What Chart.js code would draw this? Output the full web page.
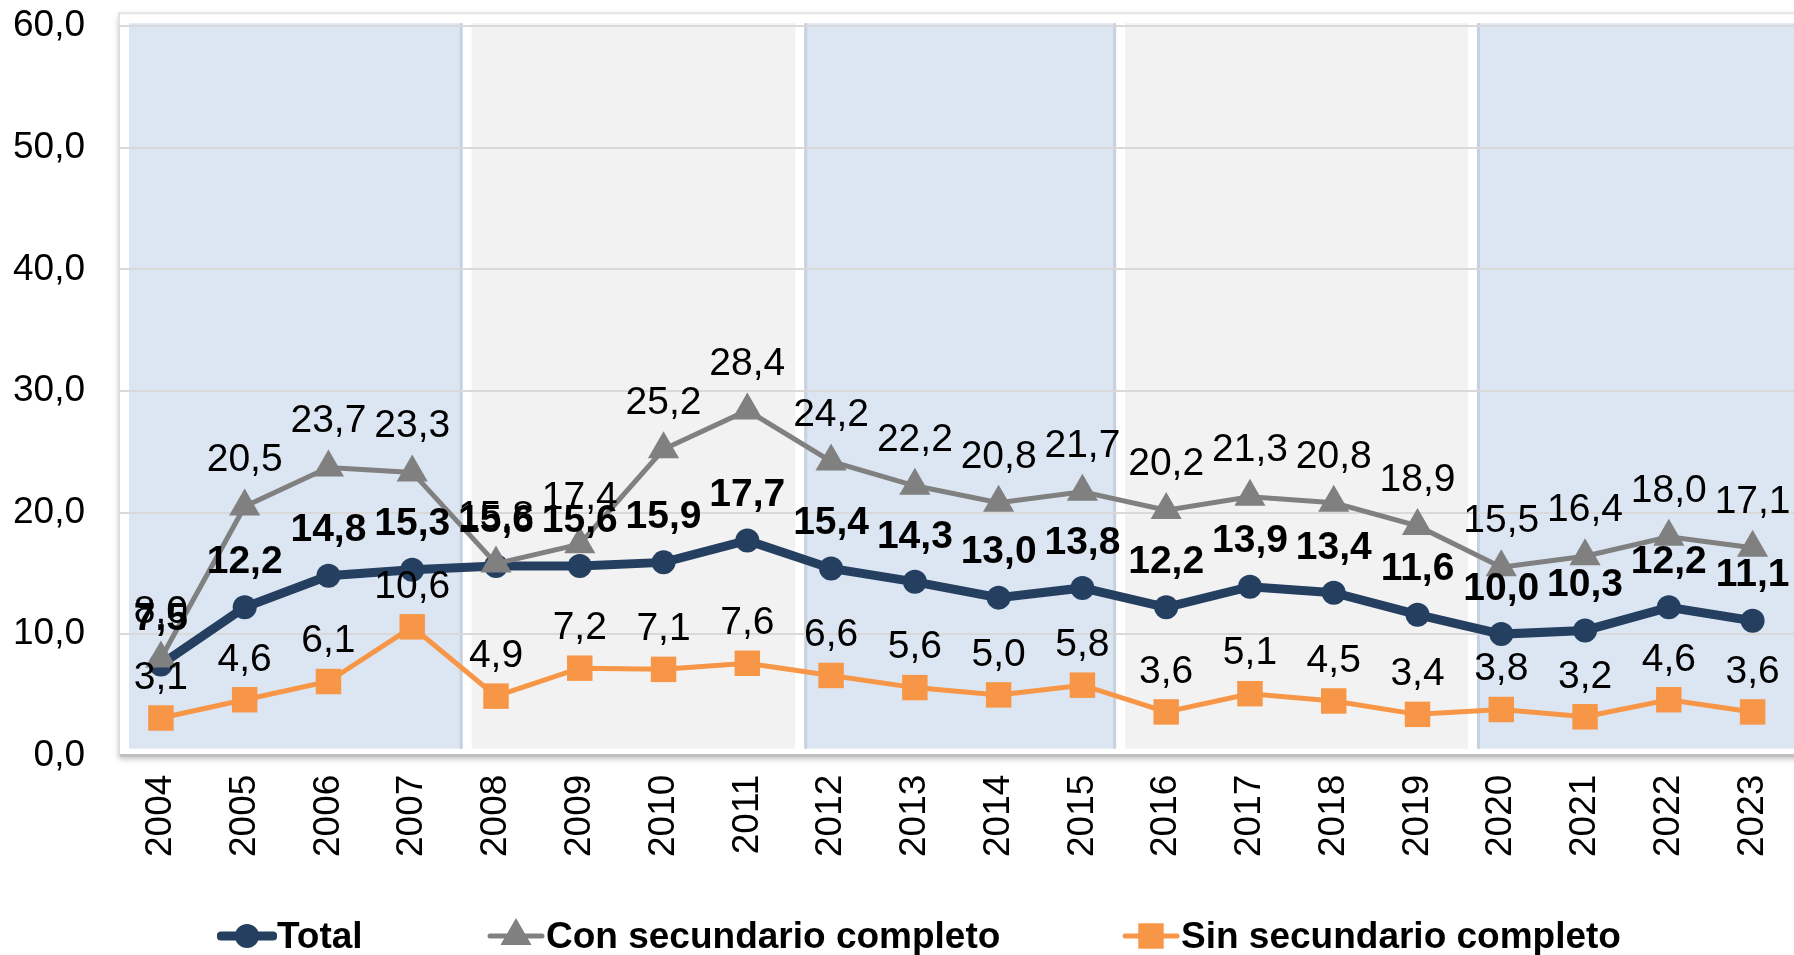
<!DOCTYPE html>
<html>
<head>
<meta charset="utf-8">
<title>Total / Con secundario completo / Sin secundario completo</title>
<script src="https://cdn.jsdelivr.net/npm/chart.js"></script>
<style>
  html, body { margin: 0; padding: 0; background: #fff; overflow: hidden; }
  #wrap { position: relative; width: 1800px; height: 955px; }
  #legend { position: absolute; left: 0; top: 914px; width: 1794px; height: 44px;
    font: bold 37px "Liberation Sans", Arial, sans-serif; color: #000; }
  .item { position: absolute; top: 0; display: flex; align-items: center; height: 44px; }
</style>
</head>
<body>
<div id="wrap">
  <canvas id="chart"></canvas>
  <div id="legend"></div>
</div>
<script>
// Chart data
const years = ['2004', '2005', '2006', '2007', '2008', '2009', '2010', '2011', '2012', '2013',
  '2014', '2015', '2016', '2017', '2018', '2019', '2020', '2021', '2022', '2023'];
const total = [7.5, 12.2, 14.8, 15.3, 15.6, 15.6, 15.9, 17.7, 15.4, 14.3,
  13.0, 13.8, 12.2, 13.9, 13.4, 11.6, 10.0, 10.3, 12.2, 11.1];
const conSecundario = [8.0, 20.5, 23.7, 23.3, 15.8, 17.4, 25.2, 28.4, 24.2, 22.2,
  20.8, 21.7, 20.2, 21.3, 20.8, 18.9, 15.5, 16.4, 18.0, 17.1];
const sinSecundario = [3.1, 4.6, 6.1, 10.6, 4.9, 7.2, 7.1, 7.6, 6.6, 5.6,
  5.0, 5.8, 3.6, 5.1, 4.5, 3.4, 3.8, 3.2, 4.6, 3.6];
const yTicks = [0, 10, 20, 30, 40, 50, 60];

// background periods: fill colours and where they split (in category units)
const bandColors = ['#DCE6F2', '#F2F2F2', '#DCE6F2', '#F2F2F2', '#DCE6F2'];
const bandSplits = [-0.5, 3.65, 7.62, 11.45, 15.65, 19.6];

const FONT = '"Liberation Sans", Arial, sans-serif';
const fmt = v => v.toFixed(1).replace('.', ',');

const canvas = document.getElementById('chart');
canvas.width = 1800;
canvas.height = 955;

// plot frame and periods, drawn behind the gridlines
const bandsPlugin = {
  id: 'bands',
  beforeDraw(chart) {
    const { ctx, chartArea, scales } = chart;
    const x = scales.x, y = scales.y;
    const top = y.getPixelForValue(60) - 3;
    const bottom = y.getPixelForValue(0) - 7;
    const frameW = chartArea.right - chartArea.left + 20;
    ctx.save();
    ctx.fillStyle = '#fff';
    ctx.shadowColor = 'rgba(0,0,0,0.25)';
    ctx.shadowBlur = 6;
    ctx.shadowOffsetY = 3;
    ctx.fillRect(chartArea.left, top - 10, frameW, chartArea.bottom - top + 10);
    ctx.restore();
    ctx.save();
    ctx.strokeStyle = '#E3E3E3';
    ctx.lineWidth = 2;
    ctx.strokeRect(chartArea.left, top - 10, frameW, chartArea.bottom - top + 10);
    bandColors.forEach((color, i) => {
      const x0 = x.getPixelForValue(bandSplits[i]) + (i === 0 ? 10 : 5);
      const x1 = x.getPixelForValue(bandSplits[i + 1]) - 4;
      ctx.fillStyle = color;
      ctx.fillRect(x0, top, x1 - x0, bottom - top);
      if (color === '#DCE6F2') {
        ctx.fillStyle = '#C8D2DE';
        if (i > 0) ctx.fillRect(x0, top, 3, bottom - top);
        ctx.fillRect(x1 - 3, top, 3, bottom - top);
      }
    });
    ctx.restore();
  }
};

// value labels above the points
const labelsPlugin = {
  id: 'valueLabels',
  afterDatasetsDraw(chart) {
    const { ctx } = chart;
    ctx.save();
    ctx.textAlign = 'center';
    ctx.textBaseline = 'middle';
    ctx.fillStyle = '#000';
    chart.data.datasets.forEach((ds, i) => {
      const meta = chart.getDatasetMeta(i);
      ctx.font = (ds.labelBold ? 'bold ' : '') + '39px ' + FONT;
      meta.data.forEach((pt, j) => {
        ctx.fillText(fmt(ds.data[j]), pt.x, pt.y - ds.labelOffset);
      });
    });
    ctx.restore();
  }
};

const series = [
  { label: 'Total', data: total, color: '#243F60', width: 9, style: 'circle', radius: 12, bold: true, offset: 45, order: 1 },
  { label: 'Con secundario completo', data: conSecundario, color: '#808080', width: 5, style: 'triangle', radius: 18, bold: false, offset: 46, order: 0 },
  { label: 'Sin secundario completo', data: sinSecundario, color: '#F79646', width: 5, style: 'rect', radius: 18, bold: false, offset: 40, order: 2 }
];

new Chart(canvas, {
  type: 'line',
  data: {
    labels: years,
    datasets: series.map(s => ({
      label: s.label,
      data: s.data,
      borderColor: s.color,
      backgroundColor: s.color,
      borderWidth: s.width,
      pointStyle: s.style,
      pointRadius: s.radius,
      pointBorderWidth: 0,
      pointBackgroundColor: s.color,
      tension: 0,
      clip: false,
      order: s.order,
      labelBold: s.bold,
      labelOffset: s.offset
    }))
  },
  options: {
    responsive: false,
    animation: false,
    layout: { autoPadding: false, padding: { left: 9, right: -10, top: 0, bottom: 95 } },
    plugins: { legend: { display: false }, tooltip: { enabled: false } },
    scales: {
      x: {
        offset: true,
        // invisible tick marks give the gap under the axis line
        grid: { display: true, drawOnChartArea: false, drawTicks: true, tickLength: 16, tickColor: 'rgba(0,0,0,0)' },
        border: { display: true, color: '#BFBFBF', width: 3 },
        ticks: { color: '#000', font: { family: FONT, size: 37 }, minRotation: 90, maxRotation: 90, padding: 3 }
      },
      y: {
        min: 0,
        max: 60,
        afterBuildTicks: axis => { axis.ticks = yTicks.map(v => ({ value: v })); },
        grid: { color: '#D9D9D9', lineWidth: 2, drawTicks: true, tickLength: 30, tickColor: 'rgba(0,0,0,0)' },
        border: { display: true, color: '#DDDDDD', width: 2 },
        ticks: { color: '#000', font: { family: FONT, size: 37 }, padding: 4, callback: v => fmt(v) }
      }
    }
  },
  plugins: [bandsPlugin, labelsPlugin]
});

// legend: line + marker, then bold text
const legend = document.getElementById('legend');
const legendLeft = [217, 486, 1121];
series.forEach((s, i) => {
  const item = document.createElement('div');
  item.className = 'item';
  item.style.left = legendLeft[i] + 'px';
  const icon = document.createElement('canvas');
  icon.width = 60; icon.height = 40;
  const c = icon.getContext('2d');
  c.strokeStyle = s.color; c.fillStyle = s.color;
  c.lineWidth = s.width; c.lineCap = 'round';
  c.beginPath(); c.moveTo(4, 20); c.lineTo(56, 20); c.stroke();
  const r = s.radius;
  c.beginPath();
  if (s.style === 'circle') c.arc(30, 20, r, 0, Math.PI * 2);
  else if (s.style === 'triangle') {
    c.moveTo(30, 20 - r);
    c.lineTo(30 + r * Math.sin(2 * Math.PI / 3), 20 + r / 2);
    c.lineTo(30 - r * Math.sin(2 * Math.PI / 3), 20 + r / 2);
    c.closePath();
  } else {
    const h = r * Math.SQRT1_2;
    c.rect(30 - h, 20 - h, 2 * h, 2 * h);
  }
  c.fill();
  item.appendChild(icon);
  const txt = document.createElement('span');
  txt.textContent = s.label;
  item.appendChild(txt);
  legend.appendChild(item);
});
</script>
</body>
</html>
